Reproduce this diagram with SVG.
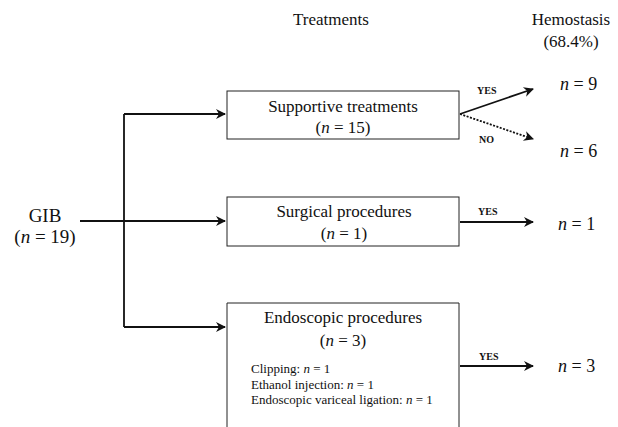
<svg xmlns="http://www.w3.org/2000/svg" width="618" height="427" viewBox="0 0 618 427" font-family="'Liberation Serif','Times New Roman',serif">
<style>
text{font-family:"Liberation Serif","Times New Roman",serif;fill:#111}
.h{font-size:17px;text-anchor:middle}
.b{font-size:17px;text-anchor:middle}
.s{font-size:13px}
.l{font-size:10px;font-weight:bold}
.r{font-size:18px}
.g{font-size:19px;text-anchor:middle}
.box{fill:#fff;stroke:#222;stroke-width:1}
.c{fill:none;stroke:#111;stroke-width:1.8}
.d{fill:none;stroke:#111;stroke-width:1.8;stroke-dasharray:2 1.5}
</style>
<defs>
<marker id="a2" viewBox="0 0 10 10" refX="9" refY="5" markerWidth="12" markerHeight="10" markerUnits="userSpaceOnUse" orient="auto">
<path d="M0,0 L10,5 L0,10 L3,5 Z" fill="#111"/>
</marker>
</defs>
<g id="headers">
<text class="h" x="331" y="25">Treatments</text>
<text class="h" x="571" y="25">Hemostasis</text>
<text class="h" x="571" y="47">(68.4%)</text>
</g>
<g id="gib">
<text class="g" x="45" y="222">GIB</text>
<text class="g" x="45" y="243">(<tspan font-style="italic">n</tspan> = 19)</text>
</g>
<g id="connectors">
<path class="c" d="M80,221 H225" marker-end="url(#a2)"/>
<path class="c" d="M124,114 V327"/>
<path class="c" d="M124,114 H225" marker-end="url(#a2)"/>
<path class="c" d="M124,327 H225" marker-end="url(#a2)"/>
<path class="c" d="M460,114 L533,89" marker-end="url(#a2)"/>
<path class="d" d="M460,114 L533,139" marker-end="url(#a2)"/>
<path class="c" d="M460,222 H533" marker-end="url(#a2)"/>
<path class="c" d="M460,366 H533" marker-end="url(#a2)"/>
<text class="l" x="477" y="94">YES</text>
<text class="l" x="479" y="143">NO</text>
<text class="l" x="478" y="215">YES</text>
<text class="l" x="479" y="360">YES</text>
</g>
<g id="supportive">
<rect class="box" x="227" y="91" width="232" height="48"/>
<text class="b" x="343" y="112">Supportive treatments</text>
<text class="b" x="343" y="133">(<tspan font-style="italic">n</tspan> = 15)</text>
</g>
<g id="surgical">
<rect class="box" x="227" y="197" width="232" height="49"/>
<text class="b" x="344" y="217">Surgical procedures</text>
<text class="b" x="344" y="239">(<tspan font-style="italic">n</tspan> = 1)</text>
</g>
<g id="endoscopic">
<path class="box" d="M227,430 V303 H459 V430"/>
<text class="b" x="343" y="323">Endoscopic procedures</text>
<text class="b" x="343" y="346">(<tspan font-style="italic">n</tspan> = 3)</text>
<text class="s" x="251" y="373">Clipping: <tspan font-style="italic">n</tspan> = 1</text>
<text class="s" x="251" y="389">Ethanol injection: <tspan font-style="italic">n</tspan> = 1</text>
<text class="s" x="251" y="404">Endoscopic variceal ligation: <tspan font-style="italic">n</tspan> = 1</text>
</g>
<g id="results">
<text class="r" x="560" y="90"><tspan font-style="italic">n</tspan> = 9</text>
<text class="r" x="560" y="157"><tspan font-style="italic">n</tspan> = 6</text>
<text class="r" x="558" y="230"><tspan font-style="italic">n</tspan> = 1</text>
<text class="r" x="558" y="372"><tspan font-style="italic">n</tspan> = 3</text>
</g>
</svg>
